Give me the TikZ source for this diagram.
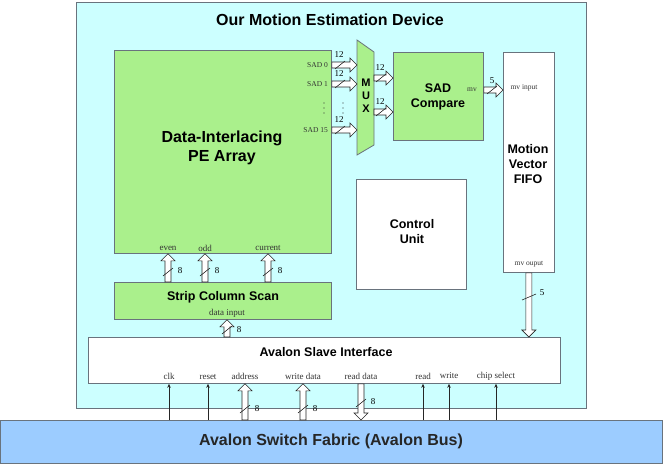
\documentclass[tikz,border=0pt]{standalone}
\usepackage{fontspec}
\setmainfont{Liberation Serif}
\newfontfamily\arialf{Liberation Sans}
\usetikzlibrary{arrows.meta,calc}
\definecolor{devbg}{RGB}{204,255,255}
\definecolor{pegreen}{RGB}{170,240,140}
\definecolor{busblue}{RGB}{156,204,255}
\definecolor{edgegray}{RGB}{105,115,125}
\def\fasw{3}
\def\fahw{7}
\def\fahl{7}
\newcommand{\fatarrow}[2]{%
  \draw[fatst] let \p1=(#1), \p2=(#2), \n1={veclen(\x2-\x1,\y2-\y1)},
    \n2={(\x2-\x1)/\n1}, \n3={(\y2-\y1)/\n1} in
    ({\x1-\fasw*\n3},{\y1+\fasw*\n2}) --
    ({\x2-\fahl*\n2-\fasw*\n3},{\y2-\fahl*\n3+\fasw*\n2}) --
    ({\x2-\fahl*\n2-\fahw*\n3},{\y2-\fahl*\n3+\fahw*\n2}) --
    (\x2,\y2) --
    ({\x2-\fahl*\n2+\fahw*\n3},{\y2-\fahl*\n3-\fahw*\n2}) --
    ({\x2-\fahl*\n2+\fasw*\n3},{\y2-\fahl*\n3-\fasw*\n2}) --
    ({\x1+\fasw*\n3},{\y1-\fasw*\n2}) -- cycle;}
\newcommand{\busslash}[1]{\draw[slashst] ([shift={(-5,4)}]#1) -- ([shift={(5,-4)}]#1);}
\tikzset{
  box/.style={draw=edgegray, line width=0.8pt, inner sep=0pt, anchor=north west, align=center},
  gbox/.style={box, fill=pegreen},
  wbox/.style={box, fill=white},
  bigt/.style={font=\arialf\bfseries\fontsize{16}{19}\selectfont, align=center, inner sep=0pt},
  midt/.style={font=\arialf\bfseries\fontsize{12.5}{15}\selectfont, align=center, inner sep=0pt},
  sig/.style={font=\fontsize{9}{10}\selectfont, text=black!80, inner sep=0pt},
  sadl/.style={font=\fontsize{7.5}{8}\selectfont, text=black!80, inner sep=0pt},
  num/.style={font=\fontsize{9}{10}\selectfont, inner sep=0pt},
  fatst/.style={draw=black!85, fill=white, line width=0.6pt, line join=miter},
  slashst/.style={draw=black!85, line width=0.6pt},
  thinarr/.style={draw=black!85, line width=0.6pt, -{Stealth[length=4pt,width=3.5pt]}},
}
\begin{document}
\begin{tikzpicture}[x=1pt,y=-1pt]
\useasboundingbox (0,0) rectangle (663,466);
% device box
\node[box, fill=devbg, minimum width=510, minimum height=406] (dev) at (76,2) {};
\node[bigt] (title) at (330,20) {Our Motion Estimation Device};
% blocks
\node[gbox, minimum width=217, minimum height=203] (pe) at (114,50) {};
\node[bigt] (petext) at (222,148) {Data-Interlacing\\PE Array};
\node[gbox, minimum width=90, minimum height=88] (sadc) at (393,52) {};
\node[midt] (sadtext) at (438,97) {SAD\\Compare};
\node[wbox, minimum width=51, minimum height=220] (fifo) at (503,52) {};
\node[midt] (fifotext) at (528,164) {Motion\\Vector\\FIFO};
\node[wbox, minimum width=110, minimum height=110] (ctrl) at (356,179) {};
\node[midt] (ctrltext) at (412,232) {Control\\Unit};
\node[gbox, minimum width=217, minimum height=37] (strip) at (114,282) {};
\node[midt] (striptext) at (223,297) {Strip Column Scan};
\node[wbox, minimum width=472, minimum height=46] (slave) at (88,337) {};
\node[midt] (slavetext) at (326,352) {Avalon Slave Interface};
% bus
\node[box, fill=busblue, minimum width=662, minimum height=43] (bus) at (0,420) {};
\node[bigt, text=black!85] (bustext) at (331,441) {Avalon Switch Fabric (Avalon Bus)};
% MUX
\coordinate (muxtl) at (357,40);
\coordinate (muxtr) at (374,52);
\coordinate (muxbr) at (374,145);
\coordinate (muxbl) at (357,155);
\draw[draw=edgegray, line width=0.8pt, fill=pegreen] (muxtl) -- (muxtr) -- (muxbr) -- (muxbl) -- cycle;
\node[font=\arialf\bfseries\fontsize{11}{13}\selectfont, align=center, inner sep=0pt] (muxtext) at (366,96) {M\\U\\X};
% PE labels
\node[sadl, anchor=east] (sad0) at (328,65) {SAD 0};
\node[sadl, anchor=east] (sad1) at (328,84) {SAD 1};
\node[sadl, anchor=east] (sad15) at (328,130) {SAD 15};
\foreach \yy in {103,108,113} {\fill[black!80] (324,\yy) circle (0.7); \fill[black!80] (343,\yy) circle (0.7);}
\node[sig] (evenl) at (168,248) {even};
\node[sig] (oddl) at (205,248) {odd};
\node[sig] (curl) at (268,248) {current};
\node[sig] (datal) at (227,313) {data input};
\node[sadl] (mvl) at (472,90) {mv};
\node[sadl] (mvin) at (524,88) {mv input};
\node[sadl] (mvout) at (529,264) {mv ouput};
% SAD -> MUX arrows
\fatarrow{pe.east |- sad0}{muxtl |- sad0}
\fatarrow{pe.east |- sad1}{muxtl |- sad1}
\fatarrow{pe.east |- sad15}{muxtl |- sad15}
\foreach \yy/\nm in {65/a,84/b,130/c} {
  \coordinate (sl\nm) at (340,\yy);
  \busslash{sl\nm}
  \node[num] at (339,\yy-10) {12};
}
% MUX -> SAD compare
\coordinate (mo1) at (374,78);
\coordinate (mo2) at (374,112);
\fatarrow{mo1}{sadc.west |- mo1}
\fatarrow{mo2}{sadc.west |- mo2}
\coordinate (slm1) at (381,78);
\coordinate (slm2) at (381,112);
\busslash{slm1}\busslash{slm2}
\node[num] at (380,68) {12};
\node[num] at (380,102) {12};
% mv arrow
\fatarrow{sadc.east |- mvl}{fifo.west |- mvl}
\coordinate (slmv) at (492,90);
\busslash{slmv}
\node[num] at (492,81) {5};
% FIFO -> slave
\fatarrow{fifo.south}{slave.north -| fifo.south}
\coordinate (slf) at (529,297);
\draw[slashst] ([shift={(-7,3)}]slf) -- ([shift={(7,-3)}]slf);
\node[num] at (542,293) {5};
% strip -> PE
\fatarrow{strip.north -| evenl}{pe.south -| evenl}
\fatarrow{strip.north -| oddl}{pe.south -| oddl}
\fatarrow{strip.north -| curl}{pe.south -| curl}
\foreach \xx/\nm in {168/a,205/b,268/c} {
  \coordinate (sp\nm) at (\xx,272);
  \busslash{sp\nm}
  \node[num] at (\xx+12,271) {8};
}
% slave -> strip
\fatarrow{slave.north -| datal}{strip.south -| datal}
\coordinate (sd) at (227,330);
\busslash{sd}
\node[num] at (239,330) {8};
% slave signals
\node[sig] (clkl) at (169,376) {clk};
\node[sig] (resetl) at (208,377) {reset};
\node[sig] (addrl) at (245,376) {address};
\node[sig] (wdl) at (303,376) {write data};
\node[sig] (rdl) at (361,376) {read data};
\node[sig] (readl) at (423,376) {read};
\node[sig] (writel) at (449,376) {write};
\node[sig] (csl) at (496,376) {chip select};
\draw[thinarr] (bus.north -| clkl) -- (slave.south -| clkl);
\draw[thinarr] (bus.north -| resetl) -- (slave.south -| resetl);
\draw[thinarr] (bus.north -| readl) -- (slave.south -| readl);
\draw[thinarr] (bus.north -| writel) -- (slave.south -| writel);
\draw[thinarr] (bus.north -| csl) -- (slave.south -| csl);
\fatarrow{bus.north -| addrl}{slave.south -| addrl}
\fatarrow{bus.north -| wdl}{slave.south -| wdl}
\fatarrow{slave.south -| rdl}{bus.north -| rdl}
\coordinate (sa) at (245,409);
\coordinate (sw) at (303,409);
\coordinate (sr) at (361,403);
\busslash{sa}\busslash{sw}\busslash{sr}
\node[num] at (257,409) {8};
\node[num] at (315,409) {8};
\node[num] at (373,402) {8};
\end{tikzpicture}
\end{document}
